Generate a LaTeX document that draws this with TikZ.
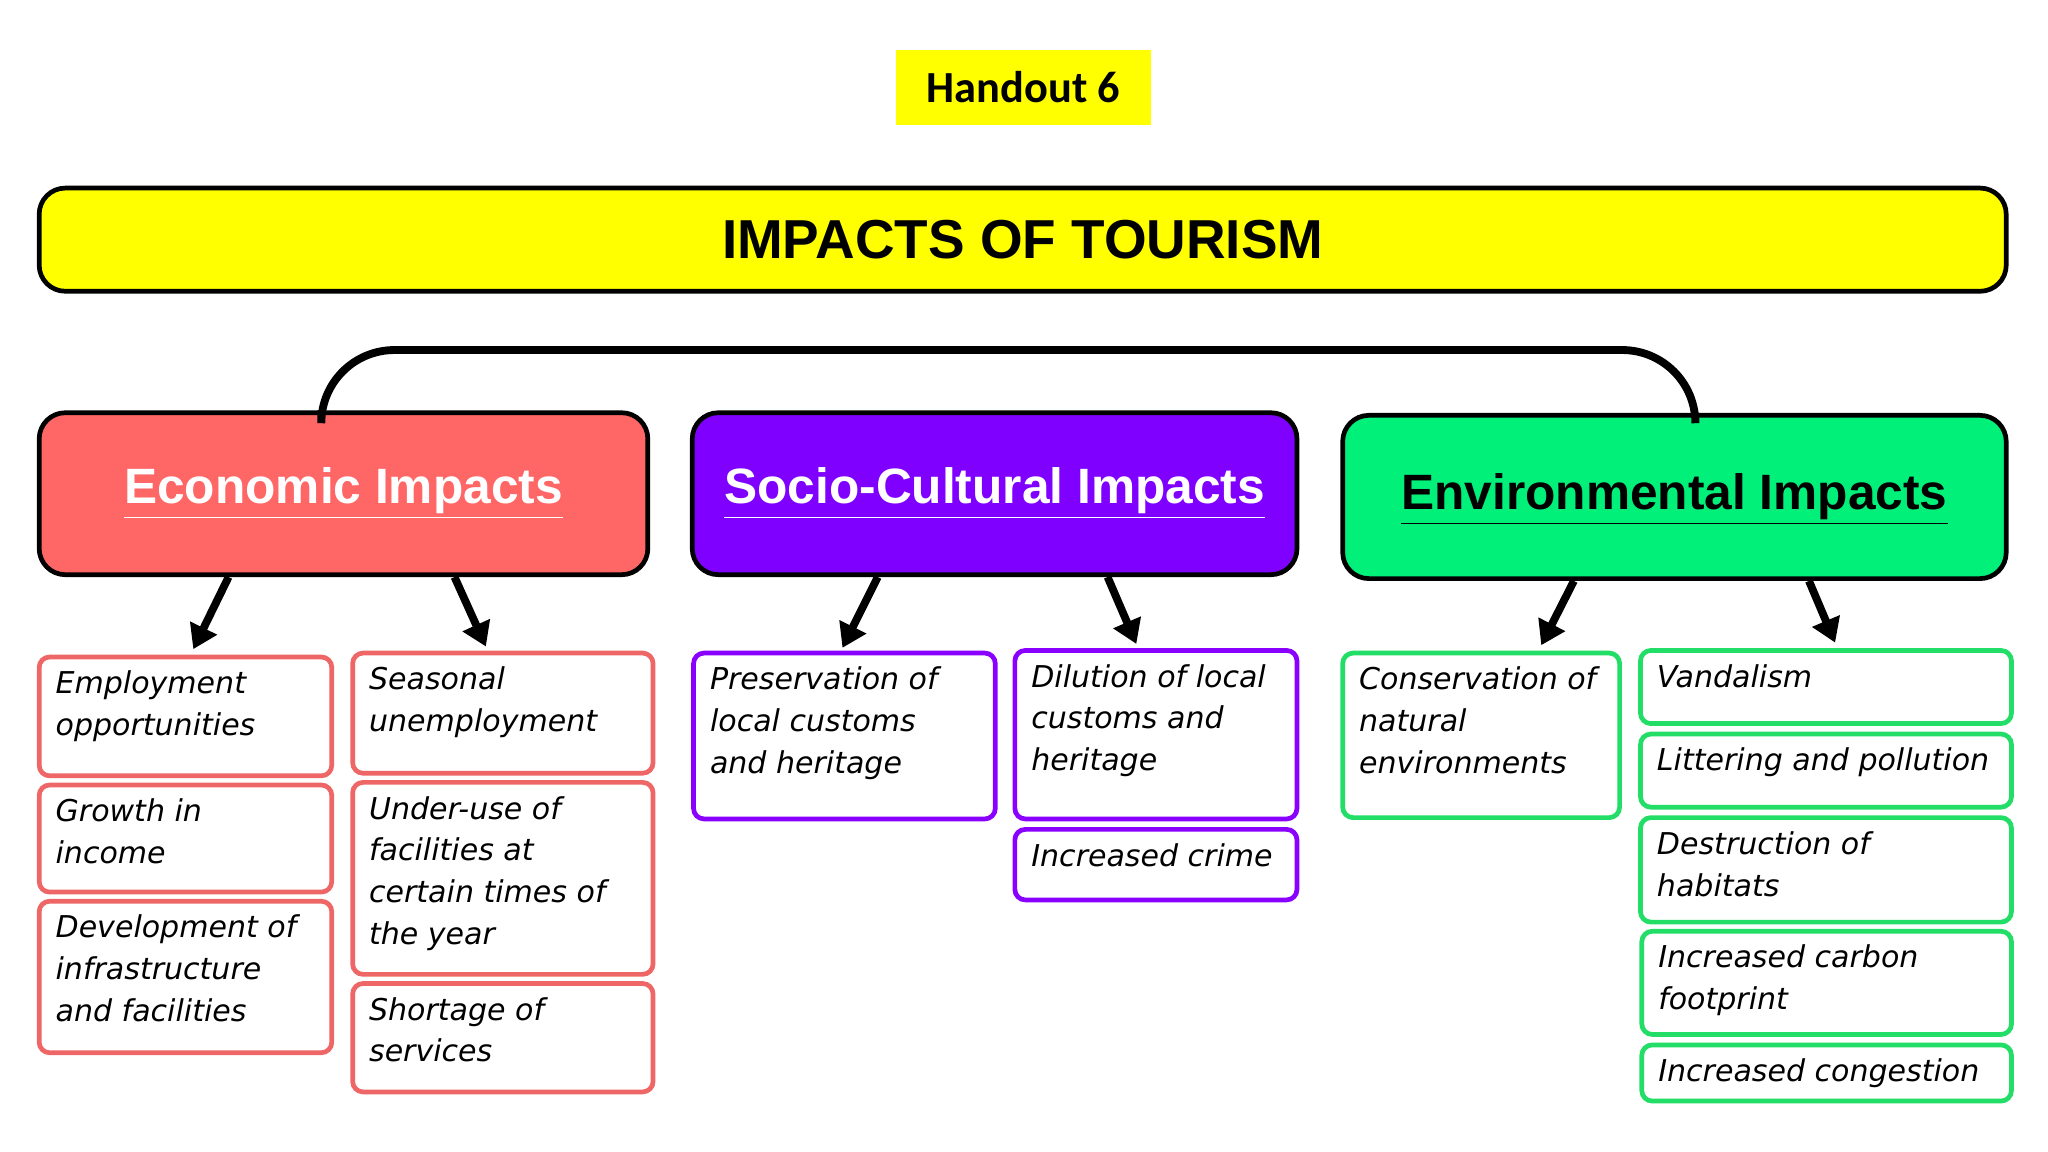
\documentclass[tikz,border=0pt]{standalone}
\usepackage{fontspec}
\setmainfont{DejaVu Sans}
\newfontfamily\headfont{Liberation Sans}
\newfontfamily\handfont{Carlito}
\usetikzlibrary{fit,arrows.meta}
\definecolor{econfill}{HTML}{FF6666}
\definecolor{econline}{HTML}{EE6666}
\definecolor{socfill}{HTML}{8000FF}
\definecolor{socline}{HTML}{8A00FF}
\definecolor{envfill}{HTML}{00F07A}
\definecolor{envline}{HTML}{22DD66}
\definecolor{hy}{HTML}{FFFF00}
\tikzset{
  boxitem/.style={draw=#1, line width=1.8pt, rounded corners=4pt, inner sep=0pt, fill=white},
  itemtext/.style={anchor=north west, align=left, inner sep=0pt, font={\fontsize{11.5}{16}\selectfont\itshape}},
  headbox/.style={draw=black, line width=1.8pt, rounded corners=10pt, inner sep=0pt, fill=#1},
  bigarrow/.style={line width=3pt, -{Triangle[length=9pt,width=11pt]}},
}
\newcommand{\itm}[7]{%
  \path (#3,#4) coordinate (#1-a) (#5,#6) coordinate (#1-b);
  \node[boxitem=#2, fit=(#1-a)(#1-b)] (#1) {};
  \node[itemtext] (#1-t) at ([shift={(7pt,-6pt)}]#1.north west) {#7};}
\begin{document}
\begin{tikzpicture}[x=0.5pt,y=-0.5pt]
\useasboundingbox (0,0) rectangle (1568,882);
% handout
\path (686,38) coordinate (h-a) (881,96) coordinate (h-b);
\node[fit=(h-a)(h-b), fill=hy, inner sep=0pt] (hand) {};
\node[font={\handfont\bfseries\fontsize{17}{20}\selectfont}] at (hand.center) {Handout 6};
% title
\path (30,144) coordinate (t-a) (1536,223) coordinate (t-b);
\node[headbox=hy, fit=(t-a)(t-b)] (title) {};
\node[font={\headfont\bfseries\fontsize{21}{24}\selectfont}] at (title.center) {IMPACTS OF TOURISM};
% headings
\path (30,316) coordinate (e-a) (496,440) coordinate (e-b);
\node[headbox=econfill, fit=(e-a)(e-b)] (econ) {};
\node[font={\headfont\bfseries\fontsize{19}{22}\selectfont}, text=white] at (econ.center) {\underline{Economic Impacts}};
\path (530,316) coordinate (s-a) (993,440) coordinate (s-b);
\node[headbox=socfill, fit=(s-a)(s-b)] (soc) {};
\node[font={\headfont\bfseries\fontsize{19}{22}\selectfont}, text=white] at (soc.center) {\underline{Socio-Cultural Impacts}};
\path (1028,318) coordinate (v-a) (1536,443) coordinate (v-b);
\node[headbox=envfill, fit=(v-a)(v-b)] (env) {};
\node[font={\headfont\bfseries\fontsize{19}{22}\selectfont}, text=black] at ([yshift=-1pt]env.center) {\underline{Environmental Impacts}};
% arc
\coordinate (arcL) at (246,268);
\coordinate (arcR) at (1298,268);
\draw[line width=3pt, rounded corners=28pt] (econ.north -| arcL) -- (arcL) -- (arcR) -- (env.north -| arcR);
% items
\itm{e1}{econline}{30}{503}{254}{594}{Employment\\opportunities}
\itm{e2}{econline}{30}{601}{254}{683}{Growth in\\income}
\itm{e3}{econline}{30}{690}{254}{806}{Development of\\infrastructure\\and facilities}
\itm{e4}{econline}{270}{500}{500}{592}{Seasonal\\unemployment}
\itm{e5}{econline}{270}{599}{500}{746}{Under-use of\\facilities at\\certain times of\\the year}
\itm{e6}{econline}{270}{753}{500}{836}{Shortage of\\services}
\itm{s1}{socline}{531}{500}{762}{627}{Preservation of\\local customs\\and heritage}
\itm{s2}{socline}{777}{498}{993}{627}{Dilution of local\\customs and\\heritage}
\itm{s3}{socline}{777}{635}{993}{689}{Increased crime}
\itm{v1}{envline}{1028}{500}{1240}{626}{Conservation of\\natural\\environments}
\itm{v2}{envline}{1256}{498}{1540}{554}{Vandalism}
\itm{v3}{envline}{1256}{562}{1540}{618}{Littering and pollution}
\itm{v4}{envline}{1256}{626}{1540}{706}{Destruction of\\habitats}
\itm{v5}{envline}{1257}{713}{1540}{792}{Increased carbon\\footprint}
\itm{v6}{envline}{1257}{800}{1540}{843}{Increased congestion}
% arrows
\draw[bigarrow] (econ.south -| 175,0) -- (148,497);
\draw[bigarrow] (econ.south -| 348,0) -- (372,495);
\draw[bigarrow] (soc.south -| 672,0) -- (645,496);
\draw[bigarrow] (soc.south -| 848,0) -- (870,493);
\draw[bigarrow] (env.south -| 1205,0) -- (1180,494);
\draw[bigarrow] (env.south -| 1385,0) -- (1405,492);
\end{tikzpicture}
\end{document}
